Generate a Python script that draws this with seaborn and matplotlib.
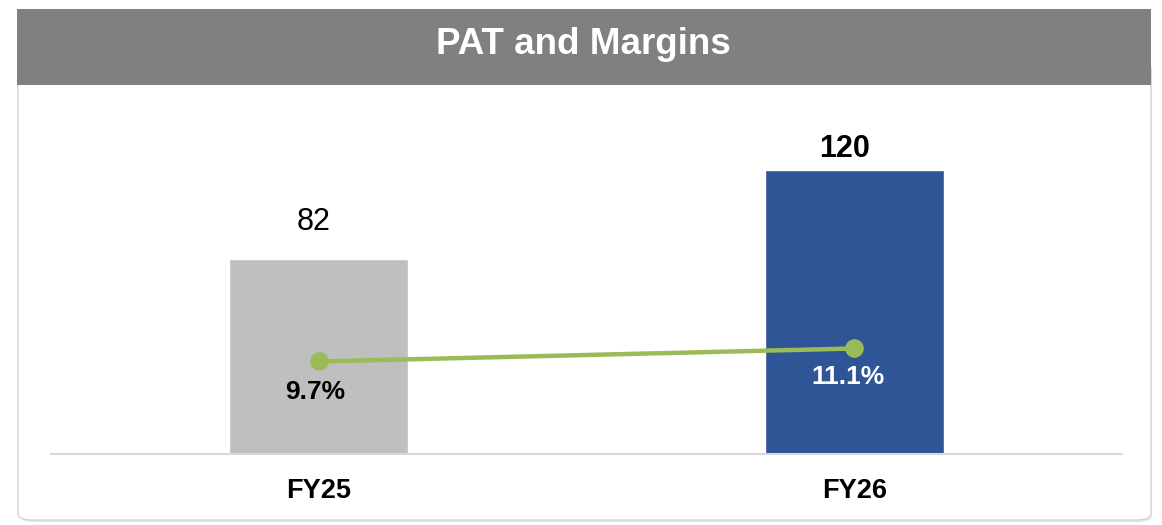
import matplotlib
matplotlib.use("Agg")
import matplotlib.pyplot as plt
from matplotlib.patches import FancyBboxPatch, Rectangle
import seaborn as sns
import pandas as pd

# ---- data ----
categories = ["FY25", "FY26"]
pat = [82, 120]
margins = [9.7, 11.1]
pat_labels = ["82", "120"]
margin_labels = ["9.7%", "11.1%"]
title = "PAT and Margins"

# ---- styles ----
bar_colors = ["#BFBFBF", "#2F5597"]
line_color = "#9BBB59"
pat_weights = ["normal", "bold"]
pat_offsets_px = [(-5, 29), (-10, 13)]
margin_offsets_px = [(-4, -31), (-6, -29)]
margin_label_colors = ["black", "white"]

sns.set_theme(style="white")
plt.rcParams["font.family"] = ["Liberation Sans", "DejaVu Sans"]

W, H = 1162, 525
fig = plt.figure(figsize=(W / 100, H / 100), dpi=100)
fig.patch.set_facecolor("white")

def fx(px):
    return px / W

def fy(py):
    return 1 - py / H

# card with shadow
shadow = FancyBboxPatch((fx(20), fy(522)), fx(1152 - 20), (522 - 64) / H,
                        boxstyle="round,pad=0,rounding_size=0.012",
                        transform=fig.transFigure, facecolor="#e6e6e6",
                        edgecolor="none", zorder=0)
card = FancyBboxPatch((fx(18), fy(520)), fx(1151 - 18), (520 - 62) / H,
                      boxstyle="round,pad=0,rounding_size=0.012",
                      transform=fig.transFigure, facecolor="white",
                      edgecolor="#d4d4d4", linewidth=1.0, zorder=1)
fig.patches.extend([shadow, card])
header = Rectangle((fx(17), fy(85)), fx(1151 - 17), (85 - 9) / H,
                   transform=fig.transFigure, facecolor="#808080",
                   edgecolor="none", zorder=2)
fig.patches.append(header)
fig.text(fx(583), fy(45), title, color="white", fontsize=26.5, fontweight="bold",
         ha="center", va="center", zorder=3)

# axes
ax_left, ax_right = 51, 1122
ax_bottom, ax_top = 453.5, 85
ax = fig.add_axes([fx(ax_left), fy(ax_bottom), fx(ax_right - ax_left),
                   (ax_bottom - ax_top) / H])
ax.set_zorder(3)
ax.patch.set_visible(False)

df = pd.DataFrame({"cat": categories, "pat": pat, "margin": margins})
sns.barplot(data=df, x="cat", y="pat", hue="cat", palette=bar_colors,
            width=0.335, legend=False, ax=ax, saturation=1)
ax.set_xlim(-0.5, 1.5)
ymax1 = (ax_bottom - ax_top) / 2.366
ax.set_ylim(0, ymax1)
for s in ["top", "right", "left"]:
    ax.spines[s].set_visible(False)
ax.spines["bottom"].set_color("#D9D9D9")
ax.spines["bottom"].set_linewidth(1.5)
ax.set_yticks([])
ax.set_xlabel("")
ax.set_ylabel("")
ax.tick_params(axis="x", length=0, pad=18, labelsize=19.5)
for t in ax.get_xticklabels():
    t.set_fontweight("bold")
    t.set_color("black")

for i, (v, lab) in enumerate(zip(pat, pat_labels)):
    dx, dy = pat_offsets_px[i]
    ax.annotate(lab, (i, v), xytext=(dx * 0.72, dy * 0.72),
                textcoords="offset points", ha="center", va="baseline",
                fontsize=22, fontweight=pat_weights[i], color="black")

ax2 = ax.twinx()
s2 = 9.286
lo = -1.93 / s2
sns.pointplot(data=df, x="cat", y="margin", color=line_color, ax=ax2,
              markers="o", markersize=11, linewidth=3.2, native_scale=False)
ax2.set_xlim(-0.5, 1.5)
ax2.set_ylim(lo, lo + (ax_bottom - ax_top) / s2)
ax2.axis("off")
for i, (v, lab) in enumerate(zip(margins, margin_labels)):
    dx, dy = margin_offsets_px[i]
    ax2.annotate(lab, (i, v), xytext=(dx * 0.72, dy * 0.72),
                 textcoords="offset points", ha="center", va="center",
                 fontsize=19, fontweight="bold", color=margin_label_colors[i])

fig.savefig("out.png", dpi=100)
